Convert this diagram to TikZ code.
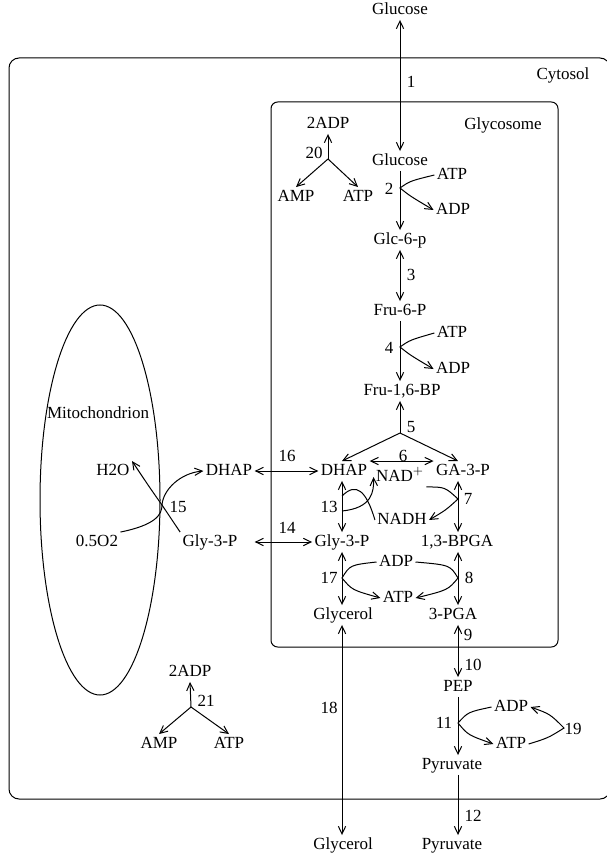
\documentclass[tikz,border=0pt]{standalone}
\usepackage{fontspec}
\setmainfont{Liberation Serif}
\usetikzlibrary{arrows.meta, calc}

\begin{document}
\begin{tikzpicture}[x=0.6pt, y=-0.6pt, line width=0.6pt,
    font=\fontsize{10.2}{12}\selectfont,
    >={Straight Barb[length=4.6pt,width=4.4pt]},
    met/.style={inner sep=1.2pt, text height=1.5ex, text depth=0.45ex},
    lbl/.style={inner sep=0pt},
    fwd/.style={->},
    rev/.style={<->}]

  \useasboundingbox (0,0) rectangle (606,857);

  % compartments
  \draw[rounded corners=6pt] (9,58) rectangle (610,799);
  \draw[rounded corners=4pt] (271,102) rectangle (558,647);
  \draw (100,500) ellipse [x radius=60, y radius=195];
  \node[lbl] (cytosol) at (563,75) {Cytosol};
  \node[lbl] (glycosome) at (503,125) {Glycosome};
  \node[lbl] (mito) at (98,413) {Mitochondrion};

  % columns of the pathway
  \coordinate (colM) at (400,0);
  \coordinate (colL) at (342,0);
  \coordinate (colR) at (458,0);

  % metabolites
  \node[met] (glcOut) at (400,10) {Glucose};
  \node[met] (glcIn) at (400,161) {Glucose};
  \node[met] (g6p) at (400,240) {Glc-6-p};
  \node[met] (f6p) at (400,311) {Fru-6-P};
  \node[met] (fbp) at (402,391) {Fru-1,6-BP};
  \node[met] (dhapIn) at (344,471) {DHAP};
  \node[met] (ga3p) at (463,471) {GA-3-P};
  \node[met] (nad) at (400,477) {NAD$^+$};
  \node[met] (nadh) at (402,520) {NADH};
  \node[met] (gly3pIn) at (342,542) {Gly-3-P};
  \node[met] (bpga) at (457,542) {1,3-BPGA};
  \node[met] (adpA) at (396,562) {ADP};
  \node[met] (atpA) at (398,598) {ATP};
  \node[met] (glycIn) at (343,615) {Glycerol};
  \node[met] (pga) at (453,615) {3-PGA};
  \node[met] (pep) at (458,687) {PEP};
  \node[met] (adpB) at (511,707) {ADP};
  \node[met] (atpB) at (511,744) {ATP};
  \node[met] (pyrIn) at (452,765) {Pyruvate};
  \node[met] (glycOut) at (343,845) {Glycerol};
  \node[met] (pyrOut) at (452,845) {Pyruvate};
  \node[met] (atp2) at (452,175) {ATP};
  \node[met] (adp2) at (453,210) {ADP};
  \node[met] (atp4) at (452,333) {ATP};
  \node[met] (adp4) at (453,369) {ADP};
  \node[met] (adp20) at (328,124) {2ADP};
  \node[met] (amp20) at (296,197) {AMP};
  \node[met] (atp20) at (358,197) {ATP};
  \node[met] (dhapOut) at (229,471) {DHAP};
  \node[met] (h2o) at (113,471) {H2O};
  \node[met] (o2) at (97,542) {0.5O2};
  \node[met] (gly3pOut) at (210,542) {Gly-3-P};
  \node[met] (adp21) at (190,672) {2ADP};
  \node[met] (amp21) at (159,744) {AMP};
  \node[met] (atp21) at (229,744) {ATP};

  % reaction numbers
  \foreach \n/\x/\y in {1/411/82, 2/389/189, 3/411/275, 4/389/348, 5/411/427,
      6/403/456, 7/468/499, 8/469/578, 9/468/635, 10/473/665, 11/444/723,
      12/473/816, 13/329/507, 14/287/528, 15/178/507, 16/287/456, 17/329/578,
      18/329/708, 19/573/729, 20/314/153, 21/206/701}
    \node[lbl] (n\n) at (\x,\y) {\n};

  % branch points
  \coordinate (r2) at (400,188);
  \coordinate (r4) at (400,347);
  \coordinate (r5) at (400,433);
  \coordinate (r7) at (458,499);
  \coordinate (r13a) at (342,496);
  \coordinate (r13b) at (342,511);
  \coordinate (r15) at (162,505);
  \coordinate (r17) at (342,578);
  \coordinate (r8) at (458,578);
  \coordinate (r11) at (458,723);
  \coordinate (r19) at (564,728);
  \coordinate (r20) at (328,159);
  \coordinate (r21) at (191,707);

  % upper glycolysis
  \draw[rev] (glcOut.south -| colM) -- (glcIn.north -| colM);
  \draw[fwd] (glcIn.south -| colM) -- (g6p.north -| colM);
  \draw[fwd] (atp2.west) .. controls (410,181) .. (r2) .. controls (410,196) .. (adp2.west);
  \draw[rev] (g6p.south -| colM) -- (f6p.north -| colM);
  \draw[fwd] (f6p.south -| colM) -- (fbp.north -| colM);
  \draw[fwd] (atp4.west) .. controls (410,340) .. (r4) .. controls (410,355) .. (adp4.west);
  \draw[fwd] (r5) -- (fbp.south -| colM);
  \draw[fwd] (r5) -- (dhapIn.north -| colL);
  \draw[fwd] (r5) -- (ga3p.north -| colR);
  \draw[rev] (dhapIn.north east) -- (ga3p.north west);

  % redox pair
  \draw[rev] (ga3p.south -| colR) -- (bpga.north -| colR);
  \draw[fwd] (nad.south east) .. controls (445,487) .. (r7) .. controls (446,510) .. (nadh.east);
  \draw[rev] (dhapIn.south -| colL) -- (gly3pIn.north -| colL);
  \draw (r13a) .. controls (356,482) and (366,490) .. (nadh.west);
  \draw[fwd] (r13b) .. controls (372,508) and (374,492) .. (nad.west);

  % transport and mitochondrion
  \draw[rev] (dhapOut.east) -- (dhapIn.west);
  \draw[rev] (gly3pOut.east -| dhapOut.east) -- (gly3pIn.west);
  \draw[fwd] (o2.north east) .. controls (155,525) and (162,515) .. (r15)
    .. controls (163,490) and (180,473) .. (dhapOut.west);
  \draw[fwd] (gly3pOut.north west) -- (r15) .. controls (150,488) .. (h2o.north east);

  % kinases
  \draw[rev] (gly3pIn.south -| colL) -- (glycIn.north -| colL);
  \draw[fwd] (adpA.west) .. controls (350,565) .. (r17) .. controls (352,590) .. (atpA.west);
  \draw[rev] (bpga.south -| colR) -- (pga.north -| colR);
  \draw[fwd] (adpA.east) .. controls (450,565) .. (r8) .. controls (448,590) .. (atpA.east);
  \draw[rev] (pga.south -| colR) -- (pep.north -| colR);
  \draw[rev] (glycIn.south -| colL) -- (glycOut.north -| colL);
  \draw[fwd] (pep.south -| colR) -- (pyrIn.north -| colR);
  \draw[fwd] (adpB.west) .. controls (468,712) .. (r11) .. controls (468,735) .. (atpB.west);
  \draw[fwd] (atpB.east) .. controls (548,738) .. (r19) .. controls (550,714) .. (adpB.east);
  \draw[fwd] (pyrIn.south -| colR) -- (pyrOut.north -| colR);

  % adenylate kinase
  \draw[fwd] (r20) -- (adp20.south);
  \draw[fwd] (r20) -- (amp20.north);
  \draw[fwd] (r20) -- (atp20.north);
  \draw[fwd] (r21) -- (adp21.south);
  \draw[fwd] (r21) -- (amp21.north);
  \draw[fwd] (r21) -- (atp21.north);
\end{tikzpicture}
\end{document}
